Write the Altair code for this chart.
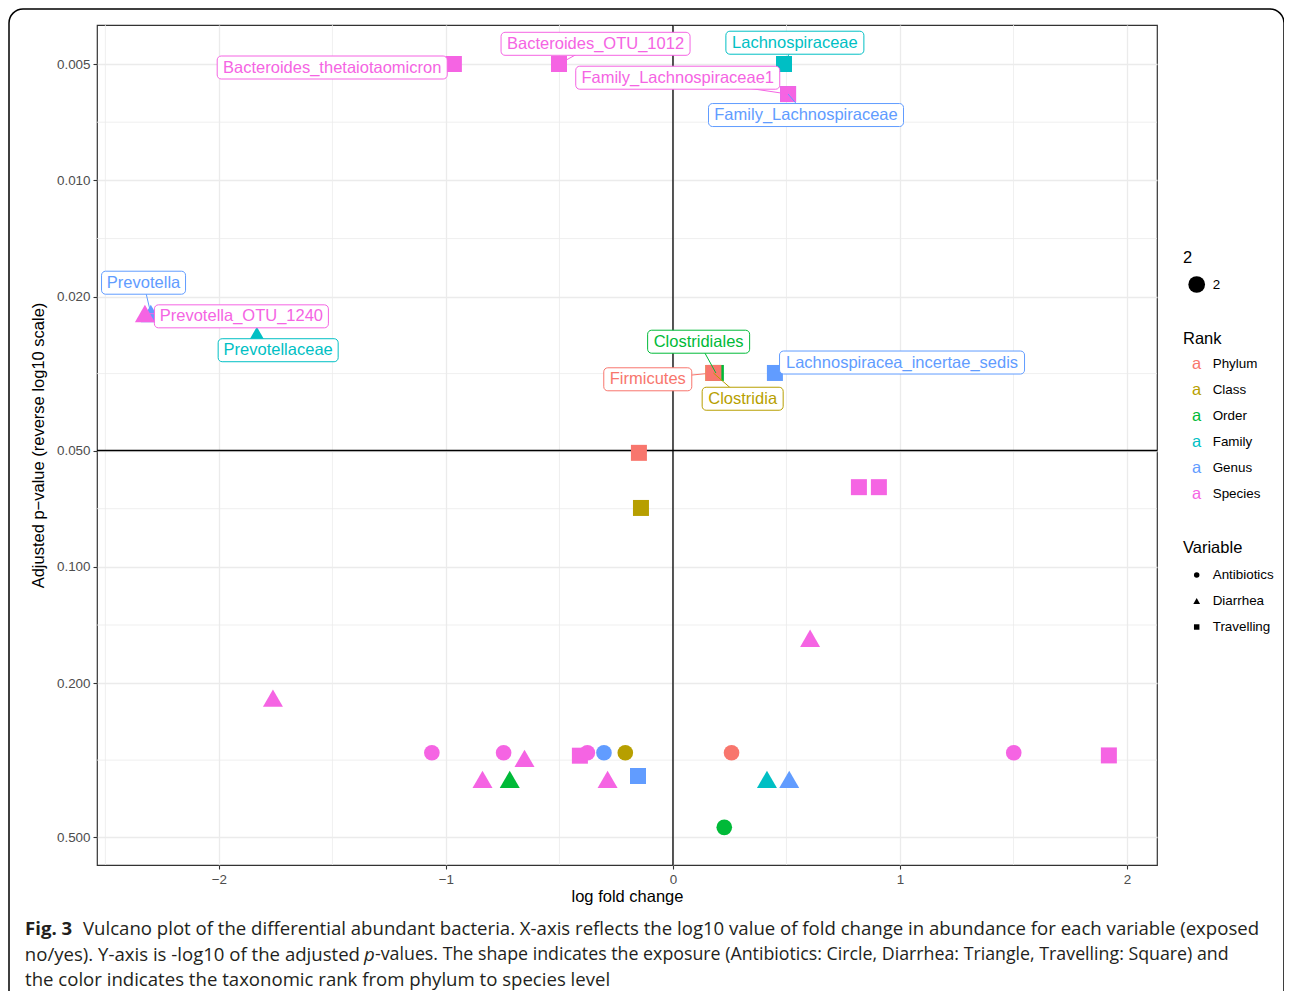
import altair as alt
import pandas as pd
import numpy as np

# ---------------- data ----------------
ranks = ["Phylum", "Class", "Order", "Family", "Genus", "Species"]
rank_colors = ["#F8766D", "#B79F00", "#00BA38", "#00BFC4", "#619CFF", "#F564E3"]
variables = ["Antibiotics", "Diarrhea", "Travelling"]

point_taxon = [
    "Family_Lachnospiraceae", "Bacteroides_thetaiotaomicron", "Bacteroides_OTU_1012",
    "Lachnospiraceae", "Family_Lachnospiraceae1",
    "Clostridia", "Clostridiales", "Firmicutes", "Lachnospiracea_incertae_sedis",
    "", "", "", "",
    "Prevotella", "Prevotella_OTU_1240", "Prevotellaceae",
    "", "",
    "", "", "", "", "", "", "", "", "", "", "", "", "", "", "", "", "",
]
point_rank = [
    "Genus", "Species", "Species", "Family", "Species",
    "Class", "Order", "Phylum", "Genus",
    "Phylum", "Class", "Species", "Species",
    "Genus", "Species", "Family",
    "Species", "Species",
    "Species", "Species", "Species", "Species", "Order", "Species", "Species",
    "Genus", "Class", "Species", "Genus", "Phylum", "Species", "Species",
    "Family", "Genus", "Order",
]
point_variable = [
    "Travelling", "Travelling", "Travelling", "Travelling", "Travelling",
    "Travelling", "Travelling", "Travelling", "Travelling",
    "Travelling", "Travelling", "Travelling", "Travelling",
    "Diarrhea", "Diarrhea", "Diarrhea",
    "Diarrhea", "Diarrhea",
    "Antibiotics", "Antibiotics", "Diarrhea", "Diarrhea", "Diarrhea", "Travelling", "Antibiotics",
    "Antibiotics", "Antibiotics", "Diarrhea", "Travelling", "Antibiotics", "Antibiotics", "Travelling",
    "Diarrhea", "Diarrhea", "Antibiotics",
]
point_lfc = [
    0.507, -0.965, -0.502, 0.489, 0.507,
    0.178, 0.189, 0.178, 0.449,
    -0.150, -0.141, 0.819, 0.907,
    -2.300, -2.326, -1.833,
    0.604, -1.762,
    -1.062, -0.746, -0.654, -0.839, -0.719, -0.410, -0.377,
    -0.304, -0.210, -0.288, -0.154, 0.258, 1.501, 1.920,
    0.414, 0.512, 0.226,
]
point_padj = [
    0.00598, 0.00500, 0.00500, 0.00500, 0.00598,
    0.0315, 0.0315, 0.0315, 0.0315,
    0.0507, 0.0704, 0.0622, 0.0622,
    0.0221, 0.0221, 0.0252,
    0.153, 0.2185,
    0.3026, 0.3026, 0.3128, 0.3546, 0.3546, 0.308, 0.3026,
    0.3026, 0.3026, 0.3546, 0.3476, 0.3026, 0.3026, 0.3075,
    0.3546, 0.3546, 0.472,
]

x_ticks = [-2, -1, 0, 1, 2]
y_ticks = [0.005, 0.01, 0.02, 0.05, 0.1, 0.2, 0.5]

# ---------------- layout (label placement, not data) ----------------
# label centre in data units and box width in px
label_layout = {
    "Bacteroides_thetaiotaomicron": (-1.501, 0.005105, 230),
    "Bacteroides_OTU_1012": (-0.341, 0.004433, 189),
    "Lachnospiraceae": (0.537, 0.004404, 138),
    "Family_Lachnospiraceae1": (0.021, 0.005425, 204),
    "Family_Lachnospiraceae": (0.586, 0.006776, 195),
    "Prevotella": (-2.332, 0.01840, 84),
    "Prevotella_OTU_1240": (-1.901, 0.02248, 174),
    "Prevotellaceae": (-1.739, 0.02751, 120),
    "Clostridiales": (0.113, 0.02615, 102),
    "Firmicutes": (-0.111, 0.03271, 88),
    "Clostridia": (0.307, 0.03673, 81),
    "Lachnospiracea_incertae_sedis": (1.009, 0.02960, 245),
}
BOX_H = 23
BOX_R = 4

X_DOMAIN = [-2.537, 2.132]
Y_DOMAIN = [0.003963, 0.5907]
W, H = 1060, 840
FONT = "Liberation Sans"
CAP_FONT = "Open Sans"

df = pd.DataFrame({
    "taxon": point_taxon, "rank": point_rank, "variable": point_variable,
    "lfc": point_lfc, "padj": point_padj,
})


def box_path(w, h, r):
    a, b = w / 2, h / 2
    return (f"M{-a + r},{-b} L{a - r},{-b} A{r},{r} 0 0 1 {a},{-b + r} "
            f"L{a},{b - r} A{r},{r} 0 0 1 {a - r},{b} L{-a + r},{b} "
            f"A{r},{r} 0 0 1 {-a},{b - r} L{-a},{-b + r} A{r},{r} 0 0 1 {-a + r},{-b} Z")


lab = df[df["taxon"] != ""].copy()
lab["label_lfc"] = [label_layout[t][0] for t in lab["taxon"]]
lab["label_padj"] = [label_layout[t][1] for t in lab["taxon"]]
lab["path"] = [box_path(label_layout[t][2], BOX_H, BOX_R) for t in lab["taxon"]]

xscale = alt.Scale(domain=X_DOMAIN, nice=False, zero=False)
yscale = alt.Scale(type="log", domain=Y_DOMAIN, reverse=True, nice=False)
cscale = alt.Scale(domain=ranks, range=rank_colors)

X = alt.X("lfc:Q", scale=xscale,
          axis=alt.Axis(values=x_ticks, format="d", title="log fold change", grid=True))
Y = alt.Y("padj:Q", scale=yscale,
          axis=alt.Axis(values=y_ticks, format=".3f",
                        title="Adjusted p\u2212value (reverse log10 scale)", grid=True))

# minor grid lines (midpoints of the breaks, log-midpoints for y)
x_minor = [(a + b) / 2 for a, b in zip(x_ticks[:-1], x_ticks[1:])]
x_minor += [x_ticks[0] - 0.5, x_ticks[-1] + 0.5]
x_minor = [v for v in x_minor if X_DOMAIN[0] < v < X_DOMAIN[1]]
y_minor = [float(np.sqrt(a * b)) for a, b in zip(y_ticks[:-1], y_ticks[1:])]

minor_x = alt.Chart(pd.DataFrame({"lfc": x_minor})).mark_rule(
    color="#EBEBEB", strokeWidth=0.8).encode(x=alt.X("lfc:Q", scale=xscale))
minor_y = alt.Chart(pd.DataFrame({"padj": y_minor})).mark_rule(
    color="#EBEBEB", strokeWidth=0.8).encode(y=alt.Y("padj:Q", scale=yscale))

one = pd.DataFrame({"k": [0]})
vline = alt.Chart(one).mark_rule(color="black", strokeWidth=1.3).encode(x=alt.datum(0))
hline = alt.Chart(one).mark_rule(color="black", strokeWidth=1.3).encode(y=alt.datum(0.05))

points = alt.Chart(df).transform_calculate(
    msize="datum.variable == 'Diarrhea' ? 400 : (datum.variable == 'Travelling' ? 256 : 245)"
).mark_point(filled=True, opacity=1).encode(
    x=X, y=Y,
    color=alt.Color("rank:N", scale=cscale, legend=None),
    shape=alt.Shape("variable:N", scale=alt.Scale(domain=variables,
                    range=["circle", "triangle-up", "square"]), legend=None),
    size=alt.Size("msize:Q", scale=None, legend=None),
)

segments = alt.Chart(lab).mark_rule(strokeWidth=1).encode(
    x=alt.X("lfc:Q", scale=xscale), y=alt.Y("padj:Q", scale=yscale),
    x2="label_lfc:Q", y2="label_padj:Q",
    color=alt.Color("rank:N", scale=cscale, legend=None),
)

boxes = alt.Chart(lab).mark_point(filled=True, opacity=1, strokeWidth=1, size=4).encode(
    x=alt.X("label_lfc:Q", scale=xscale), y=alt.Y("label_padj:Q", scale=yscale),
    shape=alt.Shape("path:N", scale=None, legend=None),
    fill=alt.value("white"),
    stroke=alt.Stroke("rank:N", scale=cscale, legend=None),
)

texts = alt.Chart(lab).mark_text(font=FONT, fontSize=16.5, align="center",
                                 baseline="middle").encode(
    x=alt.X("label_lfc:Q", scale=xscale), y=alt.Y("label_padj:Q", scale=yscale),
    text="taxon:N",
    color=alt.Color("rank:N", scale=cscale, legend=None),
)


def txt(s, x, y, size, color="black", align="left", weight="normal",
        font=FONT, style="normal"):
    return alt.Chart(pd.DataFrame({"t": [s]})).mark_text(
        font=font, fontSize=size, align=align, baseline="middle",
        fontWeight=weight, fontStyle=style, color=color,
    ).encode(text="t:N", x=alt.value(x), y=alt.value(y))


layers = [minor_x, minor_y, vline, hline, points, segments, boxes, texts]

# ---- manual legends (ggplot style) ----
LX, SX, TX = 1086, 1099.7, 1115.7
layers.append(txt("2", LX, 232.5, 16.5))
layers.append(alt.Chart(one).mark_point(filled=True, opacity=1, color="black",
                                        shape="circle", size=279).encode(
    x=alt.value(SX), y=alt.value(259.5)))
layers.append(txt("2", TX, 259.5, 13.4))

layers.append(txt("Rank", LX, 314, 16.5))
for i, (r, c) in enumerate(zip(ranks, rank_colors)):
    yy = 339.3 + 26 * i
    layers.append(txt("a", SX, yy, 16.5, color=c, align="center"))
    layers.append(txt(r, TX, yy, 13.4))

layers.append(txt("Variable", LX, 523, 16.5))
leg_shapes = ["circle", "triangle-up", "square"]
leg_sizes = [30, 45, 30]
for i, (v, s, sz) in enumerate(zip(variables, leg_shapes, leg_sizes)):
    yy = 550 + 26 * i
    layers.append(alt.Chart(one).mark_point(filled=True, opacity=1, color="black",
                                            shape=s, size=sz).encode(
        x=alt.value(SX), y=alt.value(yy)))
    layers.append(txt(v, TX, yy, 13.4))

# ---- caption ----
CAP = 18.6
CAP2 = 17.8
CC = "#231F20"
L1, L2, L3 = 904, 930, 955
layers.append(txt("Fig. 3", -72, L1, CAP, color=CC, weight="bold", font=CAP_FONT))
layers.append(txt("Vulcano plot of the differential abundant bacteria. X-axis reflects the log10 "
                  "value of fold change in abundance for each variable (exposed",
                  -14, L1, CAP, color=CC, font=CAP_FONT))
layers.append(txt("no/yes). Y-axis is -log10 of the adjusted", 263, L2, CAP, color=CC,
                  align="right", font=CAP_FONT))
layers.append(txt("p", 267, L2, CAP, color=CC, style="italic", font=CAP_FONT))
layers.append(txt("-values. The shape indicates the exposure (Antibiotics: Circle, Diarrhea: "
                  "Triangle, Travelling: Square) and", 278, L2, CAP2, color=CC, font=CAP_FONT))
layers.append(txt("the color indicates the taxonomic rank from phylum to species level",
                  -72, L3, CAP, color=CC, font=CAP_FONT))

# ---- rounded figure frame ----
layers.append(alt.Chart(one).mark_rect(
    fill="white", fillOpacity=0, stroke="black", strokeWidth=1.5, cornerRadius=14
).encode(x=alt.value(-88), x2=alt.value(1187), y=alt.value(-16), y2=alt.value(1000)))

chart = alt.layer(*layers).properties(
    width=W, height=H,
    autosize=alt.AutoSizeParams(type="none"),
    padding={"left": 89, "top": 17, "right": 127, "bottom": 126},
    background="white",
).configure_axis(
    labelFont=FONT, labelFontSize=13.4, labelColor="#4D4D4D",
    tickColor="#333333", tickSize=4, tickWidth=1.1, domain=False,
    gridColor="#EBEBEB", gridWidth=1.3,
    titleFont=FONT, titleFontSize=16.5, titleColor="black", titleFontWeight="normal",
    labelPadding=3,
).configure_axisX(titlePadding=3).configure_axisY(titlePadding=10).configure_view(
    stroke="#333333", strokeWidth=1.2
)

chart.save("out.html", embed_options={"renderer": "svg", "actions": False})
